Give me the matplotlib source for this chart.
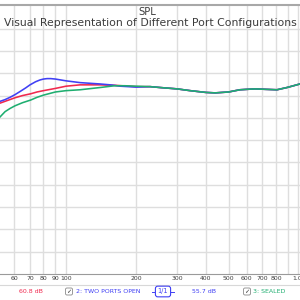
#!/usr/bin/env python3
"""SPL plot of three port configurations, REW style."""

import matplotlib

matplotlib.use("Agg")
import matplotlib.pyplot as plt
from matplotlib.patches import FancyBboxPatch

# shared response above ~200 Hz (all three traces overlap there)
common_freq = [230, 254, 300, 342, 400, 438, 500, 560, 650, 718, 808, 892, 1015]
common_db = [77.0, 76.8, 76.5, 76.1, 75.7, 75.6, 75.8, 76.3, 76.5, 76.4, 76.3, 76.8, 77.6]

red_freq = [52, 56, 60.3, 65, 70.5, 75, 80, 90, 100, 115, 140, 162, 200]
red_db = [73.3, 73.9, 74.5, 75.0, 75.4, 75.8, 76.1, 76.6, 77.1, 77.4, 77.4, 77.3, 77.0]

blue_freq = [52, 54.7, 57.4, 60.3, 63.4, 67, 70, 74, 77.3, 80, 82.9, 86, 90, 100, 115, 140, 155, 171, 200]
blue_db = [73.7, 74.1, 74.6, 75.2, 75.9, 76.7, 77.4, 78.1, 78.5, 78.7, 78.8, 78.8, 78.7, 78.3, 77.9, 77.6, 77.4, 77.1, 76.9]

green_freq = [52, 54.7, 57.4, 60.3, 65, 70.5, 75, 80, 90, 100, 115, 140, 162, 179, 200]
green_db = [70.2, 71.4, 72.1, 72.7, 73.4, 74.0, 74.6, 75.1, 75.8, 76.1, 76.3, 76.8, 77.2, 77.2, 77.1]

tick_freqs = [60, 70, 80, 90, 100, 200, 300, 400, 500, 600, 700, 800, 900, 1000]
tick_labels = ["60", "70", "80", "90", "100", "200", "300", "400", "500", "600", "700", "800", "", "1.0k"]

RED = "#f0284e"
BLUE = "#4040f4"
GREEN = "#1fae70"
GRID = "#dedede"
TEXT = "#3c3c3c"

fig = plt.figure(figsize=(3, 3), dpi=100)
ax = fig.add_axes([0, 26 / 300, 1, 269 / 300])

ax.plot(red_freq + common_freq, red_db + common_db, color=RED, lw=1.15)
ax.plot(blue_freq + common_freq, blue_db + common_db, color=BLUE, lw=1.15)
ax.plot(green_freq + common_freq, green_db + common_db, color=GREEN, lw=1.15)

ax.set_xscale("log")
ax.set_xlim(52, 1015)
ax.set_ylim(35, 95.3)
ax.set_xticks(tick_freqs)
ax.set_xticklabels(tick_labels)
ax.xaxis.set_minor_locator(matplotlib.ticker.NullLocator())
ax.set_yticks(range(40, 95, 5))
ax.tick_params(axis="x", length=0, pad=1.5, labelsize=4.4, labelcolor=TEXT)
ax.tick_params(axis="y", length=0, labelleft=False)
ax.grid(True, color=GRID, lw=1.0)
ax.set_axisbelow(True)
for side in ("left", "right"):
    ax.spines[side].set_visible(False)
ax.spines["top"].set_color("#a8a8a8")
ax.spines["top"].set_linewidth(1.5)
ax.spines["bottom"].set_color("#9a9a9a")
ax.spines["bottom"].set_linewidth(0.8)

fig.text(147 / 300, 1 - 12 / 300, "SPL", ha="center", va="center", fontsize=7.2, color=TEXT)
fig.text(150 / 300, 1 - 22.5 / 300, "Visual Representation of Different Port Configurations",
         ha="center", va="center", fontsize=7.8, color=TEXT)

# legend strip at the bottom
fig.add_artist(plt.Line2D([0, 1], [1 - 285 / 300, 1 - 285 / 300], color="#d8d8d8", lw=0.8))
row_y = 1 - 291.5 / 300
fig.text(31 / 300, row_y, "60.8 dB", ha="center", va="center", fontsize=4.5, color=RED)
fig.text(204 / 300, row_y, "55.7 dB", ha="center", va="center", fontsize=4.5, color=BLUE)
fig.text(76 / 300, row_y, "2: TWO PORTS OPEN", ha="left", va="center", fontsize=4.5, color=BLUE)
fig.text(253 / 300, row_y, "3: SEALED", ha="left", va="center", fontsize=4.5, color=GREEN)

for cx in (69, 247):
    box = FancyBboxPatch(((cx - 3.5) / 300, row_y - 3.5 / 300), 7 / 300, 7 / 300,
                         boxstyle="round,pad=0,rounding_size=0.005",
                         transform=fig.transFigure, fc="white", ec="#8a8a8a", lw=0.6)
    fig.add_artist(box)
    fig.text(cx / 300, row_y, "\u2713", ha="center", va="center", fontsize=4.5, color="#333333")

fig.add_artist(plt.Line2D([152 / 300, 174 / 300], [row_y, row_y], color=BLUE, lw=0.7))
fig.text(163 / 300, row_y, "1/1", ha="center", va="center", fontsize=4.8, color=BLUE,
         bbox=dict(boxstyle="round,pad=0.35", fc="white", ec=BLUE, lw=0.8))

fig.savefig("out.png", dpi=100, facecolor="white")
